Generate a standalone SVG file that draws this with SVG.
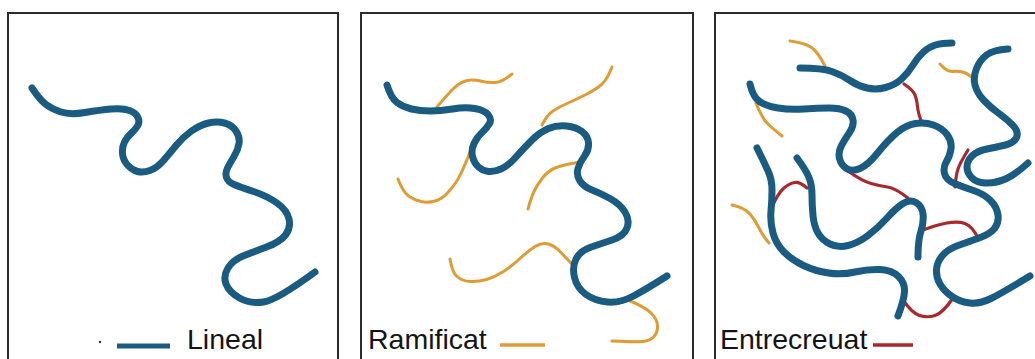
<svg xmlns="http://www.w3.org/2000/svg" width="1035" height="359" viewBox="0 0 1035 359">
  <style>
    .frame { fill: none; stroke: #2b2b2b; stroke-width: 2; }
    .main { fill: none; stroke: #1a5b82; stroke-width: 7; stroke-linecap: round; stroke-linejoin: round; }
    .branch { fill: none; stroke: #e09c34; stroke-width: 3; stroke-linecap: round; }
    .link { fill: none; stroke: #a8282c; stroke-width: 3.2; stroke-linecap: round; }
    .label { font-family: "Liberation Sans", Arial, sans-serif; font-size: 28.5px; fill: #141414; }
    .key-main { stroke: #1a5b82; stroke-width: 5; }
    .key-branch { stroke: #e09c34; stroke-width: 3.5; }
    .key-link { stroke: #a8282c; stroke-width: 3.5; }
  </style>
  <rect width="1035" height="359" fill="#ffffff"/>

  <!-- Panel 1: linear polymer -->
  <g id="panel-lineal">
    <path class="frame" d="M8,359 V13 H338 V359"/>
    <path class="main" d="M32,88 Q40,100 46,104.5 Q52,109 61,112 Q70,115 85,112.5 Q100,110 111.5,109 Q123,108 129.5,110.5 Q136,113 138,117.5 Q140,122 137.5,126 Q135,130 131,133.5 Q127,137 124.5,142 Q122,147 122.5,153.5 Q123,160 127.5,165 Q132,170 137.5,171.5 Q143,173 150,170.5 Q157,168 163.5,160.5 Q170,153 176.5,145 Q183,137 191.5,131 Q200,125 208.5,123 Q217,121 224.5,123 Q232,125 236,131 Q240,137 239,143.5 Q238,150 234,156.5 Q230,163 227.5,168 Q225,173 226.5,177.5 Q228,182 234,184.5 Q240,187 253.5,191.5 Q267,196 277,203 Q287,210 289,219 Q291,228 285.5,235 Q280,242 266.5,247 Q253,252 243,256 Q233,260 228,268 Q223,276 226,284 Q229,292 239.5,298 Q250,304 263.5,302 Q277,300 315,272"/>
    <circle cx="100" cy="342" r="1.2" fill="#333333"/>
    <line class="key-main" x1="117" y1="346" x2="170" y2="346"/>
    <text class="label" x="187" y="349">Lineal</text>
  </g>

  <!-- Panel 2: branched polymer -->
  <g id="panel-ramificat">
    <path class="frame" d="M361,359 V13 H693 V359"/>
    <g id="side-chains-2">
      <path class="branch" d="M512,74 Q502,82 495.5,82.5 Q489,83 480.5,81 Q472,79 465.5,81 Q459,83 453,89 Q447,95 437,107"/>
      <path class="branch" d="M612,67 Q607,80 601,85 Q595,90 585,95 Q575,100 567,103.5 Q559,107 553,111 Q547,115 542,125"/>
      <path class="branch" d="M473,145 Q467,160 463,169 Q459,178 455.5,183 Q452,188 447,193.5 Q442,199 435,201 Q428,203 421,201.5 Q414,200 408.5,196 Q403,192 398,179"/>
      <path class="branch" d="M580,162 Q562,165 555,168 Q548,171 542.5,178 Q537,185 534,191.5 Q531,198 528,209"/>
      <path class="branch" d="M450,259 Q452,272 457,276.5 Q462,281 470,281.5 Q478,282 486.5,279.5 Q495,277 503.5,271.5 Q512,266 520,258.5 Q528,251 535,246.5 Q542,242 548.5,244 Q555,246 561,252.5 Q567,259 575,267"/>
      <path class="branch" d="M628,300 Q645,307 651,313 Q657,319 657.5,325.5 Q658,332 654,336.5 Q650,341 642.5,341.5 Q635,342 612,341"/>
    </g>
    <path class="main" d="M387,85 Q391,98 397,102.5 Q403,107 411.5,109 Q420,111 430,111 Q440,111 452.5,109 Q465,107 474.5,108.5 Q484,110 488,114.5 Q492,119 489.5,123.5 Q487,128 482,132.5 Q477,137 474,143.5 Q471,150 472.5,156.5 Q474,163 478.5,167 Q483,171 488.5,171.5 Q494,172 501,169 Q508,166 516,157 Q524,148 532,140 Q540,132 548.5,128.5 Q557,125 566.5,126 Q576,127 582,131.5 Q588,136 588.5,143 Q589,150 584.5,156 Q580,162 578,168.5 Q576,175 580,181 Q584,187 592,190 Q600,193 610,198.5 Q620,204 625,212 Q630,220 627,228 Q624,236 612,240 Q600,244 590,247.5 Q580,251 576,259 Q572,267 574.5,277.5 Q577,288 586,294.5 Q595,301 607.5,302 Q620,303 632.5,296.5 Q645,290 667,276"/>
    <text class="label" x="368" y="349">Ramificat</text>
    <line class="key-branch" x1="500" y1="345" x2="545" y2="345"/>
  </g>

  <!-- Panel 3: cross-linked network -->
  <g id="panel-entrecreuat">
    <path class="frame" d="M715,359 V13 H1035"/>
    <g id="side-chains-3">
      <path class="branch" d="M790,41 Q805,43 811.5,47.5 Q818,52 825,66"/>
      <path class="branch" d="M756,103 Q762,118 767,123 Q772,128 782,136"/>
      <path class="branch" d="M940,64 Q947,72 952.5,71.5 Q958,71 962.5,72 Q967,73 973,78"/>
      <path class="branch" d="M732,205 Q745,208 750,214 Q755,220 759,228 Q763,236 769,243"/>
    </g>
    <g id="cross-links">
      <path class="link" d="M904,84 Q913,90 915,95 Q917,100 917.5,106.5 Q918,113 922,123"/>
      <path class="link" d="M968,150 Q960,163 958,169 Q956,175 955,187"/>
      <path class="link" d="M772,207 Q778,193 784,188 Q790,183 795,182.5 Q800,182 807,188"/>
      <path class="link" d="M848,171 Q862,181 871,183.5 Q880,186 887.5,187 Q895,188 908,198"/>
      <path class="link" d="M923,230 Q936,225 947,223 Q958,221 965,223.5 Q972,226 978,238"/>
      <path class="link" d="M903,300 Q912,313 919.5,315.5 Q927,318 935,315.5 Q943,313 953,298"/>
    </g>
    <g id="chains-3">
      <path class="main" d="M800,68 Q822,68 832,71.5 Q842,75 850,80.5 Q858,86 867,88 Q876,90 885.5,87.5 Q895,85 901.5,79 Q908,73 913,65 Q918,57 923.5,52 Q929,47 935.5,45 Q942,43 952,43"/>
      <path class="main" d="M750,84 Q753,97 759.5,101.5 Q766,106 778,108 Q790,110 804,109 Q818,108 829,108 Q840,108 846,111 Q852,114 853,120 Q854,126 849.5,132.5 Q845,139 841.5,145.5 Q838,152 839.5,158.5 Q841,165 846.5,168.5 Q852,172 860,168.5 Q868,165 878,152.5 Q888,140 897,132.5 Q906,125 915.5,123.5 Q925,122 933.5,125 Q942,128 947,134.5 Q952,141 951,148.5 Q950,156 946.5,161.5 Q943,167 944.5,173.5 Q946,180 954.5,183.5 Q963,187 973.5,190.5 Q984,194 990.5,200.5 Q997,207 998,215 Q999,223 994.5,228.5 Q990,234 979,238 Q968,242 958,245.5 Q948,249 942.5,255.5 Q937,262 936.5,269.5 Q936,277 940,284 Q944,291 952,296.5 Q960,302 970,303 Q980,304 991,298.5 Q1002,293 1030,276"/>
      <path class="main" d="M1008,49 Q993,50 986.5,55 Q980,60 976.5,68.5 Q973,77 975,85 Q977,93 983.5,100 Q990,107 999,113.5 Q1008,120 1013.5,126 Q1019,132 1016.5,137.5 Q1014,143 1005.5,145 Q997,147 987,149 Q977,151 972,156 Q967,161 967,167 Q967,173 972,178 Q977,183 987,183 Q997,183 1006.5,178.5 Q1016,174 1028,163"/>
      <path class="main" d="M757,148 Q765,164 768.5,172 Q772,180 772,190 Q772,200 771,211 Q770,222 773,233 Q776,244 784,252 Q792,260 803.5,265.5 Q815,271 828.5,273 Q842,275 855,272 Q868,269 880,269.5 Q892,270 898.5,276.5 Q905,283 904.5,291.5 Q904,300 898,316"/>
      <path class="main" d="M797,158 Q806,170 809,177.5 Q812,185 812,195 Q812,205 813,215.5 Q814,226 818,233 Q822,240 830,244 Q838,248 848,245.5 Q858,243 868,235.5 Q878,228 887,218 Q896,208 903,203.5 Q910,199 916,202.5 Q922,206 923,214 Q924,222 921,231 Q918,240 918,257"/>
    </g>
    <text class="label" x="720" y="349">Entrecreuat</text>
    <line class="key-link" x1="873" y1="345" x2="913" y2="345"/>
  </g>
</svg>
